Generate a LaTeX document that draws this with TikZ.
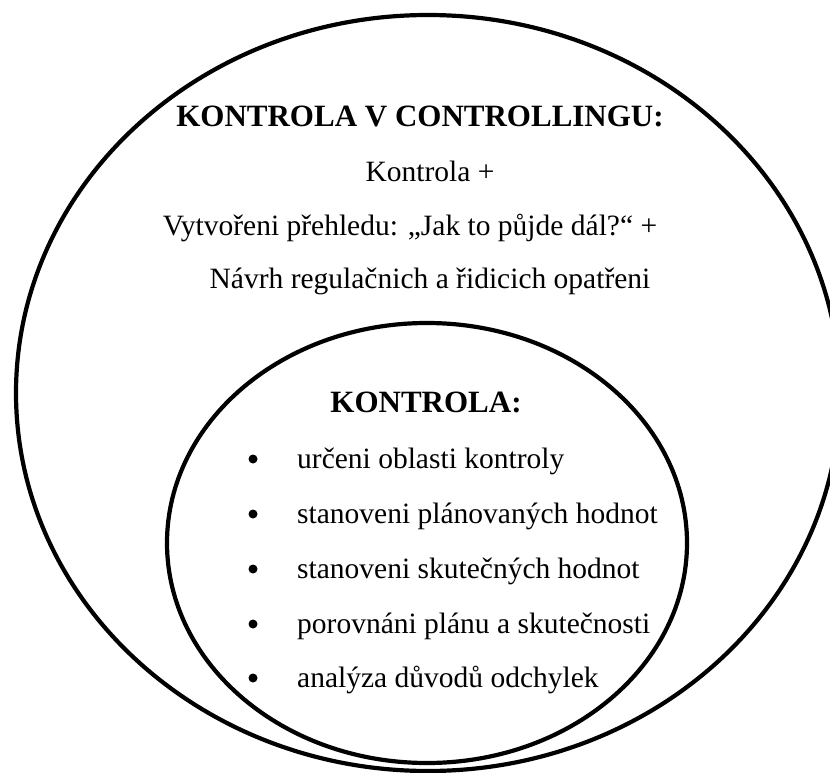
\documentclass[tikz,border=0pt]{standalone}
\usepackage{fontspec}
\setmainfont{Liberation Serif}
\begin{document}
\begin{tikzpicture}[x=1pt,y=-1pt,
  ring/.style={draw=black,line width=4.2pt},
  headtext/.style={font=\fontsize{31}{36}\selectfont\bfseries,inner sep=0pt,anchor=base},
  bodytext/.style={font=\fontsize{29.5}{34}\selectfont,inner sep=0pt,anchor=base},
  itemtext/.style={font=\fontsize{29.5}{34}\selectfont,inner sep=0pt,anchor=base west},
  dot/.style={circle,fill=black,inner sep=0pt,minimum size=9pt}]
\useasboundingbox (0,0) rectangle (830,773);
\clip (0,0) rectangle (830,773);
\fill[white] (0,0) rectangle (830,773);

% outer and inner sets
\draw[ring] (428,393) ellipse [x radius=412, y radius=378];
\draw[ring] (427,543) ellipse [x radius=260, y radius=220];

% outer set: controlling
\node[headtext] (outerhead) at (420,127) {KONTROLA V CONTROLLINGU:};
\node[bodytext] (outerl1) at (430,182) {Kontrola +};
\node[bodytext] (outerl2) at (410,235) {Vytvořeni přehledu: „Jak to půjde dál?“ +};
\node[bodytext] (outerl3) at (430,288) {Návrh regulačnich a řidicich opatřeni};

% inner set: control steps
\node[headtext] (innerhead) at (426,412) {KONTROLA:};
\foreach \name/\yy/\txt in {i1/468/určeni oblasti kontroly,
                            i2/523/stanoveni plánovaných hodnot,
                            i3/578/stanoveni skutečných hodnot,
                            i4/633/porovnáni plánu a skutečnosti,
                            i5/687/analýza důvodů odchylek}{
  \node[dot] (\name b) at (253,\yy-9) {};
  \node[itemtext] (\name) at (297,\yy) {\txt};
}
\end{tikzpicture}
\end{document}
